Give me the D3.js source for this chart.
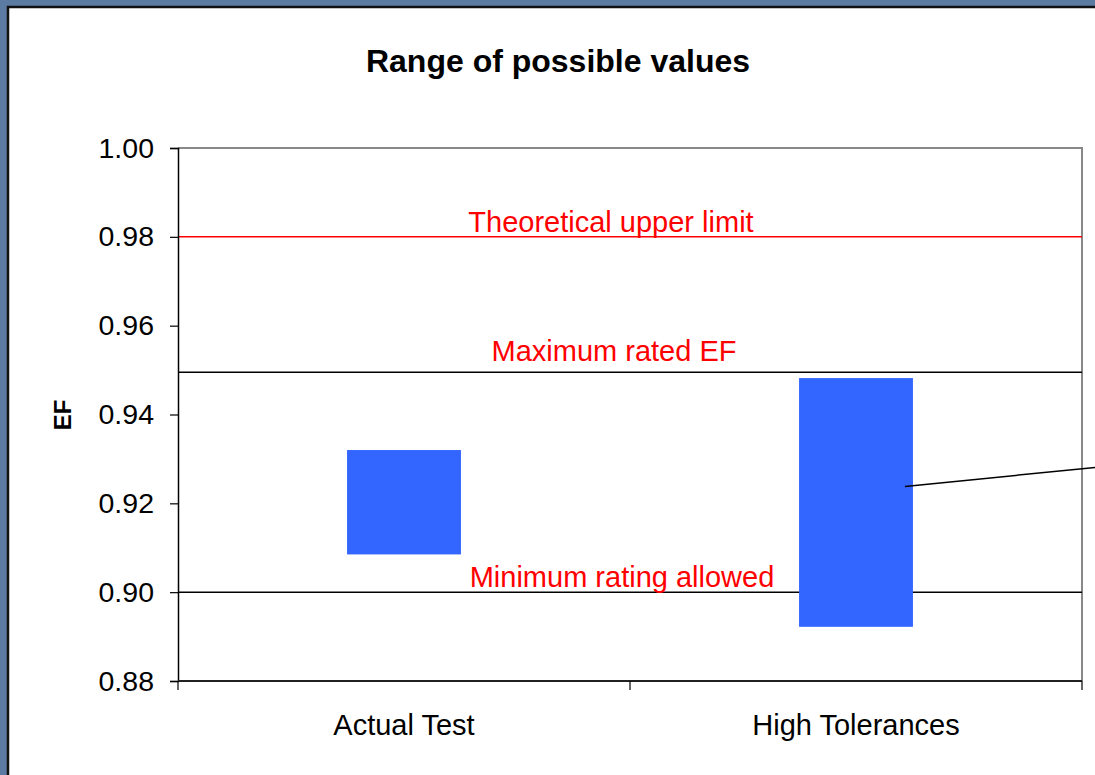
<!DOCTYPE html>
<html>
<head>
<meta charset="utf-8">
<script src="https://cdn.jsdelivr.net/npm/d3@7"></script>
<style>
  body { margin: 0; background: #5b7ba2; }
  svg { display: block; }
</style>
</head>
<body>
<script>
// data
const categories = ["Actual Test", "High Tolerances"];
const lowValues = [0.9085, 0.8922];
const highValues = [0.932, 0.9482];
const refValues = [0.98, 0.9495, 0.90];
const refLabels = ["Theoretical upper limit", "Maximum rated EF", "Minimum rating allowed"];
const refColors = ["#ff0000", "#000000", "#000000"];
const yTicks = [0.88, 0.90, 0.92, 0.94, 0.96, 0.98, 1.00];

const W = 1095, H = 775;
const m = { left: 178, right: 1082, top: 148, bottom: 681 };

const svg = d3.select("body").append("svg")
  .attr("width", W).attr("height", H)
  .attr("font-family", "Arial, 'Liberation Sans', sans-serif");

// slide-ish background + white panel
svg.append("rect").attr("width", W).attr("height", H).attr("fill", "#5b7ba2");
svg.append("rect")
  .attr("x", 8).attr("y", 7).attr("width", W + 20).attr("height", H + 20)
  .attr("fill", "#fff").attr("stroke", "#111").attr("stroke-width", 2.5);

const y = d3.scaleLinear().domain([0.88, 1.0]).range([m.bottom, m.top]);
const x = d3.scaleBand().domain(categories)
  .range([m.left, m.right]).paddingInner(0.748).paddingOuter(0.374);

// title
svg.append("text")
  .attr("x", 558).attr("y", 72)
  .attr("text-anchor", "middle")
  .attr("font-weight", "bold").attr("font-size", 32)
  .text("Range of possible values");

// plot border (top/right grey)
svg.append("path")
  .attr("d", `M${m.left},${m.top}H${m.right}V${m.bottom}`)
  .attr("fill", "none").attr("stroke", "#888").attr("stroke-width", 2);

// reference lines
refValues.forEach((v, i) => {
  svg.append("line")
    .attr("x1", m.left).attr("x2", m.right)
    .attr("y1", y(v)).attr("y2", y(v))
    .attr("stroke", refColors[i]).attr("stroke-width", 1.5);
});

// bars (floating ranges)
svg.selectAll("rect.bar")
  .data(categories)
  .join("rect")
  .attr("class", "bar")
  .attr("x", d => x(d))
  .attr("width", x.bandwidth())
  .attr("y", (d, i) => y(highValues[i]))
  .attr("height", (d, i) => y(lowValues[i]) - y(highValues[i]))
  .attr("fill", "#3366ff");

// leader line from the second bar to a callout off to the right
svg.append("line")
  .attr("x1", x(categories[1]) + x.bandwidth() - 8).attr("y1", y(0.9238))
  .attr("x2", W + 10).attr("y2", y(0.9238) - 20)
  .attr("stroke", "#000").attr("stroke-width", 1.5);

// reference labels
const labelX = [611, 614, 622];
const labelDy = [-5, -11, -5];
refLabels.forEach((t, i) => {
  svg.append("text")
    .attr("x", labelX[i]).attr("y", y(refValues[i]) + labelDy[i])
    .attr("text-anchor", "middle")
    .attr("font-size", 29).attr("fill", "#ff0000")
    .text(t);
});

// y axis
const yAxis = svg.append("g")
  .attr("transform", `translate(${m.left},0)`)
  .call(d3.axisLeft(y).tickValues(yTicks).tickFormat(d3.format(".2f")).tickSize(8).tickPadding(16));
yAxis.select(".domain").attr("stroke", "#000").attr("stroke-width", 1.5);
yAxis.selectAll(".tick line").attr("stroke", "#000").attr("stroke-width", 1.2);
yAxis.selectAll(".tick text").attr("font-size", 28.5).attr("fill", "#000")
  .attr("font-family", "Arial, 'Liberation Sans', sans-serif");

// x axis
svg.append("line")
  .attr("x1", m.left).attr("x2", m.right)
  .attr("y1", m.bottom).attr("y2", m.bottom)
  .attr("stroke", "#222").attr("stroke-width", 2);
const edges = [m.left, ...categories.map(c => x(c) - x.step() * x.paddingOuter() + x.step())];
svg.selectAll("line.xtick")
  .data(edges)
  .join("line")
  .attr("class", "xtick")
  .attr("x1", d => d).attr("x2", d => d)
  .attr("y1", m.bottom).attr("y2", m.bottom + 9)
  .attr("stroke", "#000").attr("stroke-width", 1.2);
svg.selectAll("text.xlab")
  .data(categories)
  .join("text")
  .attr("class", "xlab")
  .attr("x", d => x(d) + x.bandwidth() / 2)
  .attr("y", 735)
  .attr("text-anchor", "middle")
  .attr("font-size", 29)
  .text(d => d);

// y axis title
svg.append("text")
  .attr("transform", "translate(71,415) rotate(-90)")
  .attr("text-anchor", "middle")
  .attr("font-weight", "bold").attr("font-size", 24)
  .text("EF");
</script>
</body>
</html>
